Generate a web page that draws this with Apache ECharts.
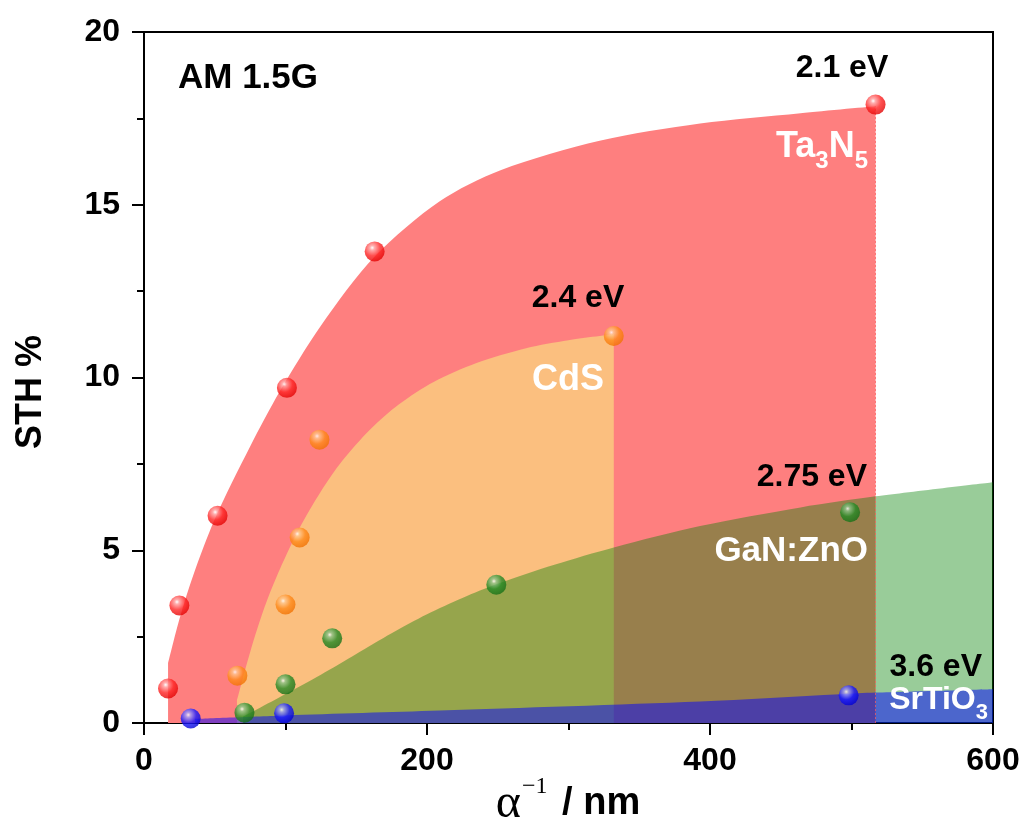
<!DOCTYPE html>
<html>
<head>
<meta charset="utf-8">
<script src="https://cdn.jsdelivr.net/npm/echarts@6.0.0/dist/echarts.min.js"></script>
<style>
  html, body { margin: 0; padding: 0; background: #ffffff; }
  #chart { width: 1026px; height: 820px; }
</style>
</head>
<body>
<div id="chart"></div>
<script>
// Measured STH efficiency vs. absorption depth (alpha^-1) for four photocatalysts
const ta3n5X = [17, 25, 52, 101, 163, 517];
const ta3n5Y = [1.0, 3.4, 6.0, 9.7, 13.65, 17.9];
const cdsX = [66, 100, 110, 124, 332];
const cdsY = [1.37, 3.43, 5.37, 8.2, 11.2];
const ganX = [71, 100, 133, 249, 499];
const ganY = [0.3, 1.12, 2.45, 4.0, 6.1];
const stoX = [33, 99, 498];
const stoY = [0.13, 0.28, 0.8];

// Upper edges of the shaded envelopes
const ta3n5EdgeX = [17, 25, 35, 50, 75, 96, 125, 163, 209, 252, 322, 393, 464, 517];
const ta3n5EdgeY = [1.72, 3.0, 4.3, 5.9, 8.0, 9.6, 11.5, 13.5, 15.1, 16.0, 16.85, 17.35, 17.65, 17.85];
const cdsEdgeX = [65.7, 70, 75, 80, 87, 96, 110, 125, 140, 160, 180, 205, 235, 270, 300, 332];
const cdsEdgeY = [0.65, 1.32, 2.05, 2.72, 3.55, 4.45, 5.65, 6.7, 7.58, 8.5, 9.22, 9.88, 10.42, 10.85, 11.08, 11.25];
const ganEdgeX = [70, 80, 100, 125, 150, 175, 200, 225, 250, 290, 332, 393, 464, 517, 600];
const ganEdgeY = [0.19, 0.4, 0.84, 1.4, 2.0, 2.6, 3.15, 3.62, 4.03, 4.58, 5.08, 5.7, 6.24, 6.56, 6.97];
const stoEdgeX = [36, 100, 209, 393, 492, 517, 600];
const stoEdgeY = [0.12, 0.22, 0.36, 0.62, 0.83, 0.88, 0.98];

// Axis ticks
const xTicks = [0, 200, 400, 600];
const yTicks = [0, 5, 10, 15, 20];

const zip = (xs, ys) => xs.map((x, i) => [x, ys[i]]);

const FONT = "'Liberation Sans', Arial, Helvetica, sans-serif";
const SERIF = "'Liberation Serif', 'Times New Roman', serif";

function sphere(light, base, dark) {
  return {
    type: 'radial', x: 0.38, y: 0.32, r: 0.72,
    colorStops: [
      { offset: 0, color: '#ffffff' },
      { offset: 0.16, color: light },
      { offset: 0.55, color: base },
      { offset: 1, color: dark }
    ]
  };
}

function envelope(name, data, color, z, edgeColor) {
  const s = {
    name, type: 'line', data, z,
    smooth: 0.3,
    showSymbol: false, symbol: 'none',
    lineStyle: { width: 0 },
    areaStyle: { color, opacity: 1 },
    silent: true
  };
  if (edgeColor) {
    // dotted closing edge on the right side of the band
    const last = data[data.length - 1];
    s.markLine = {
      silent: true, symbol: 'none', label: { show: false },
      lineStyle: { color: edgeColor, width: 1, type: [2, 2] },
      data: [[{ coord: [last[0], 0] }, { coord: [last[0], last[1]] }]]
    };
  }
  return s;
}

function dots(name, data, fill) {
  return {
    name, type: 'scatter', data, z: 10,
    symbolSize: 20,
    itemStyle: { color: fill }
  };
}

function label(text, x, y, align, color, size, rich) {
  return {
    type: 'text', x, y, z: 100,
    style: {
      text, fill: color,
      font: `bold ${size}px ${FONT}`,
      align, verticalAlign: 'middle',
      rich: rich || undefined
    }
  };
}

const subRich = (color, main, sub, drop) => ({
  m: { fontSize: main, fontWeight: 'bold', fontFamily: FONT, color, lineHeight: main },
  s: { fontSize: sub, fontWeight: 'bold', fontFamily: FONT, color, lineHeight: sub, padding: [drop, 0, 0, 0] }
});

const chart = echarts.init(document.getElementById('chart'));

chart.setOption({
  backgroundColor: '#ffffff',
  animation: false,
  grid: {
    left: 144, right: 33, top: 32, bottom: 97,
    show: true, borderColor: '#000', borderWidth: 2, backgroundColor: 'transparent'
  },
  xAxis: {
    type: 'value', min: xTicks[0], max: xTicks[xTicks.length - 1], interval: 200,
    axisLine: { show: true, lineStyle: { color: '#000', width: 2 } },
    axisTick: { show: true, inside: false, length: 12, lineStyle: { color: '#000', width: 2 } },
    minorTick: { show: true, splitNumber: 2, length: 7, lineStyle: { color: '#000', width: 2 } },
    splitLine: { show: false },
    axisLabel: { color: '#000', fontSize: 32, fontWeight: 'bold', fontFamily: FONT, margin: 22 }
  },
  yAxis: {
    type: 'value', min: yTicks[0], max: yTicks[yTicks.length - 1], interval: 5,
    axisLine: { show: true, lineStyle: { color: '#000', width: 2 } },
    axisTick: { show: true, inside: false, length: 12, lineStyle: { color: '#000', width: 2 } },
    minorTick: { show: true, splitNumber: 2, length: 7, lineStyle: { color: '#000', width: 2 } },
    splitLine: { show: false },
    axisLabel: { color: '#000', fontSize: 32, fontWeight: 'bold', fontFamily: FONT, margin: 24 }
  },
  series: [
    envelope('Ta3N5 band', zip(ta3n5EdgeX, ta3n5EdgeY), '#fe7f7f', 1, 'rgba(255,90,90,0.7)'),
    envelope('CdS band', zip(cdsEdgeX, cdsEdgeY), '#fbbf7f', 2),
    envelope('GaN:ZnO band', zip(ganEdgeX, ganEdgeY), 'rgba(0,128,0,0.4)', 3),
    envelope('SrTiO3 band', zip(stoEdgeX, stoEdgeY), 'rgba(0,0,255,0.5)', 4),
    dots('Ta3N5', zip(ta3n5X, ta3n5Y), sphere('#ff9a9a', '#ff2424', '#e00000')),
    dots('CdS', zip(cdsX, cdsY), sphere('#ffc890', '#ff8a1a', '#f07000')),
    dots('GaN:ZnO', zip(ganX, ganY), sphere('#8ac48a', '#258a25', '#166e16')),
    dots('SrTiO3', zip(stoX, stoY), sphere('#a0a0ff', '#1a1aff', '#0000d0'))
  ],
  graphic: [
    label('AM 1.5G', 178, 78, 'left', '#000', 35),
    label('2.1 eV', 842, 68, 'center', '#000', 32),
    label('{m|Ta}{s|3}{m|N}{s|5}', 868, 147, 'right', '#fff', 35, subRich('#fff', 36, 24, 28)),
    label('2.4 eV', 578, 298, 'center', '#000', 32),
    label('CdS', 532, 380, 'left', '#fff', 36),
    label('2.75 eV', 867, 477, 'right', '#000', 32),
    label('GaN:ZnO', 868, 551, 'right', '#fff', 35),
    label('3.6 eV', 982, 667, 'right', '#000', 32),
    label('{m|SrTiO}{s|3}', 988, 700, 'right', '#fff', 32, subRich('#fff', 32, 22, 26)),
    {
      type: 'text', x: 31, y: 392, rotation: Math.PI / 2, z: 100,
      style: { text: 'STH %', fill: '#000', font: `bold 36px ${FONT}`, align: 'center', verticalAlign: 'middle' }
    },
    {
      type: 'text', x: 568, y: 804, z: 100,
      style: {
        text: '{a|α}{p|−1}{b| / nm}',
        align: 'center', verticalAlign: 'middle',
        rich: {
          a: { fontSize: 48, fontFamily: SERIF, color: '#000', lineHeight: 44 },
          p: { fontSize: 24, fontFamily: SERIF, color: '#000', lineHeight: 24, padding: [0, 4, 34, 1] },
          b: { fontSize: 38, fontWeight: 'bold', fontFamily: FONT, color: '#000', lineHeight: 44 }
        }
      }
    }
  ]
});
</script>
</body>
</html>
